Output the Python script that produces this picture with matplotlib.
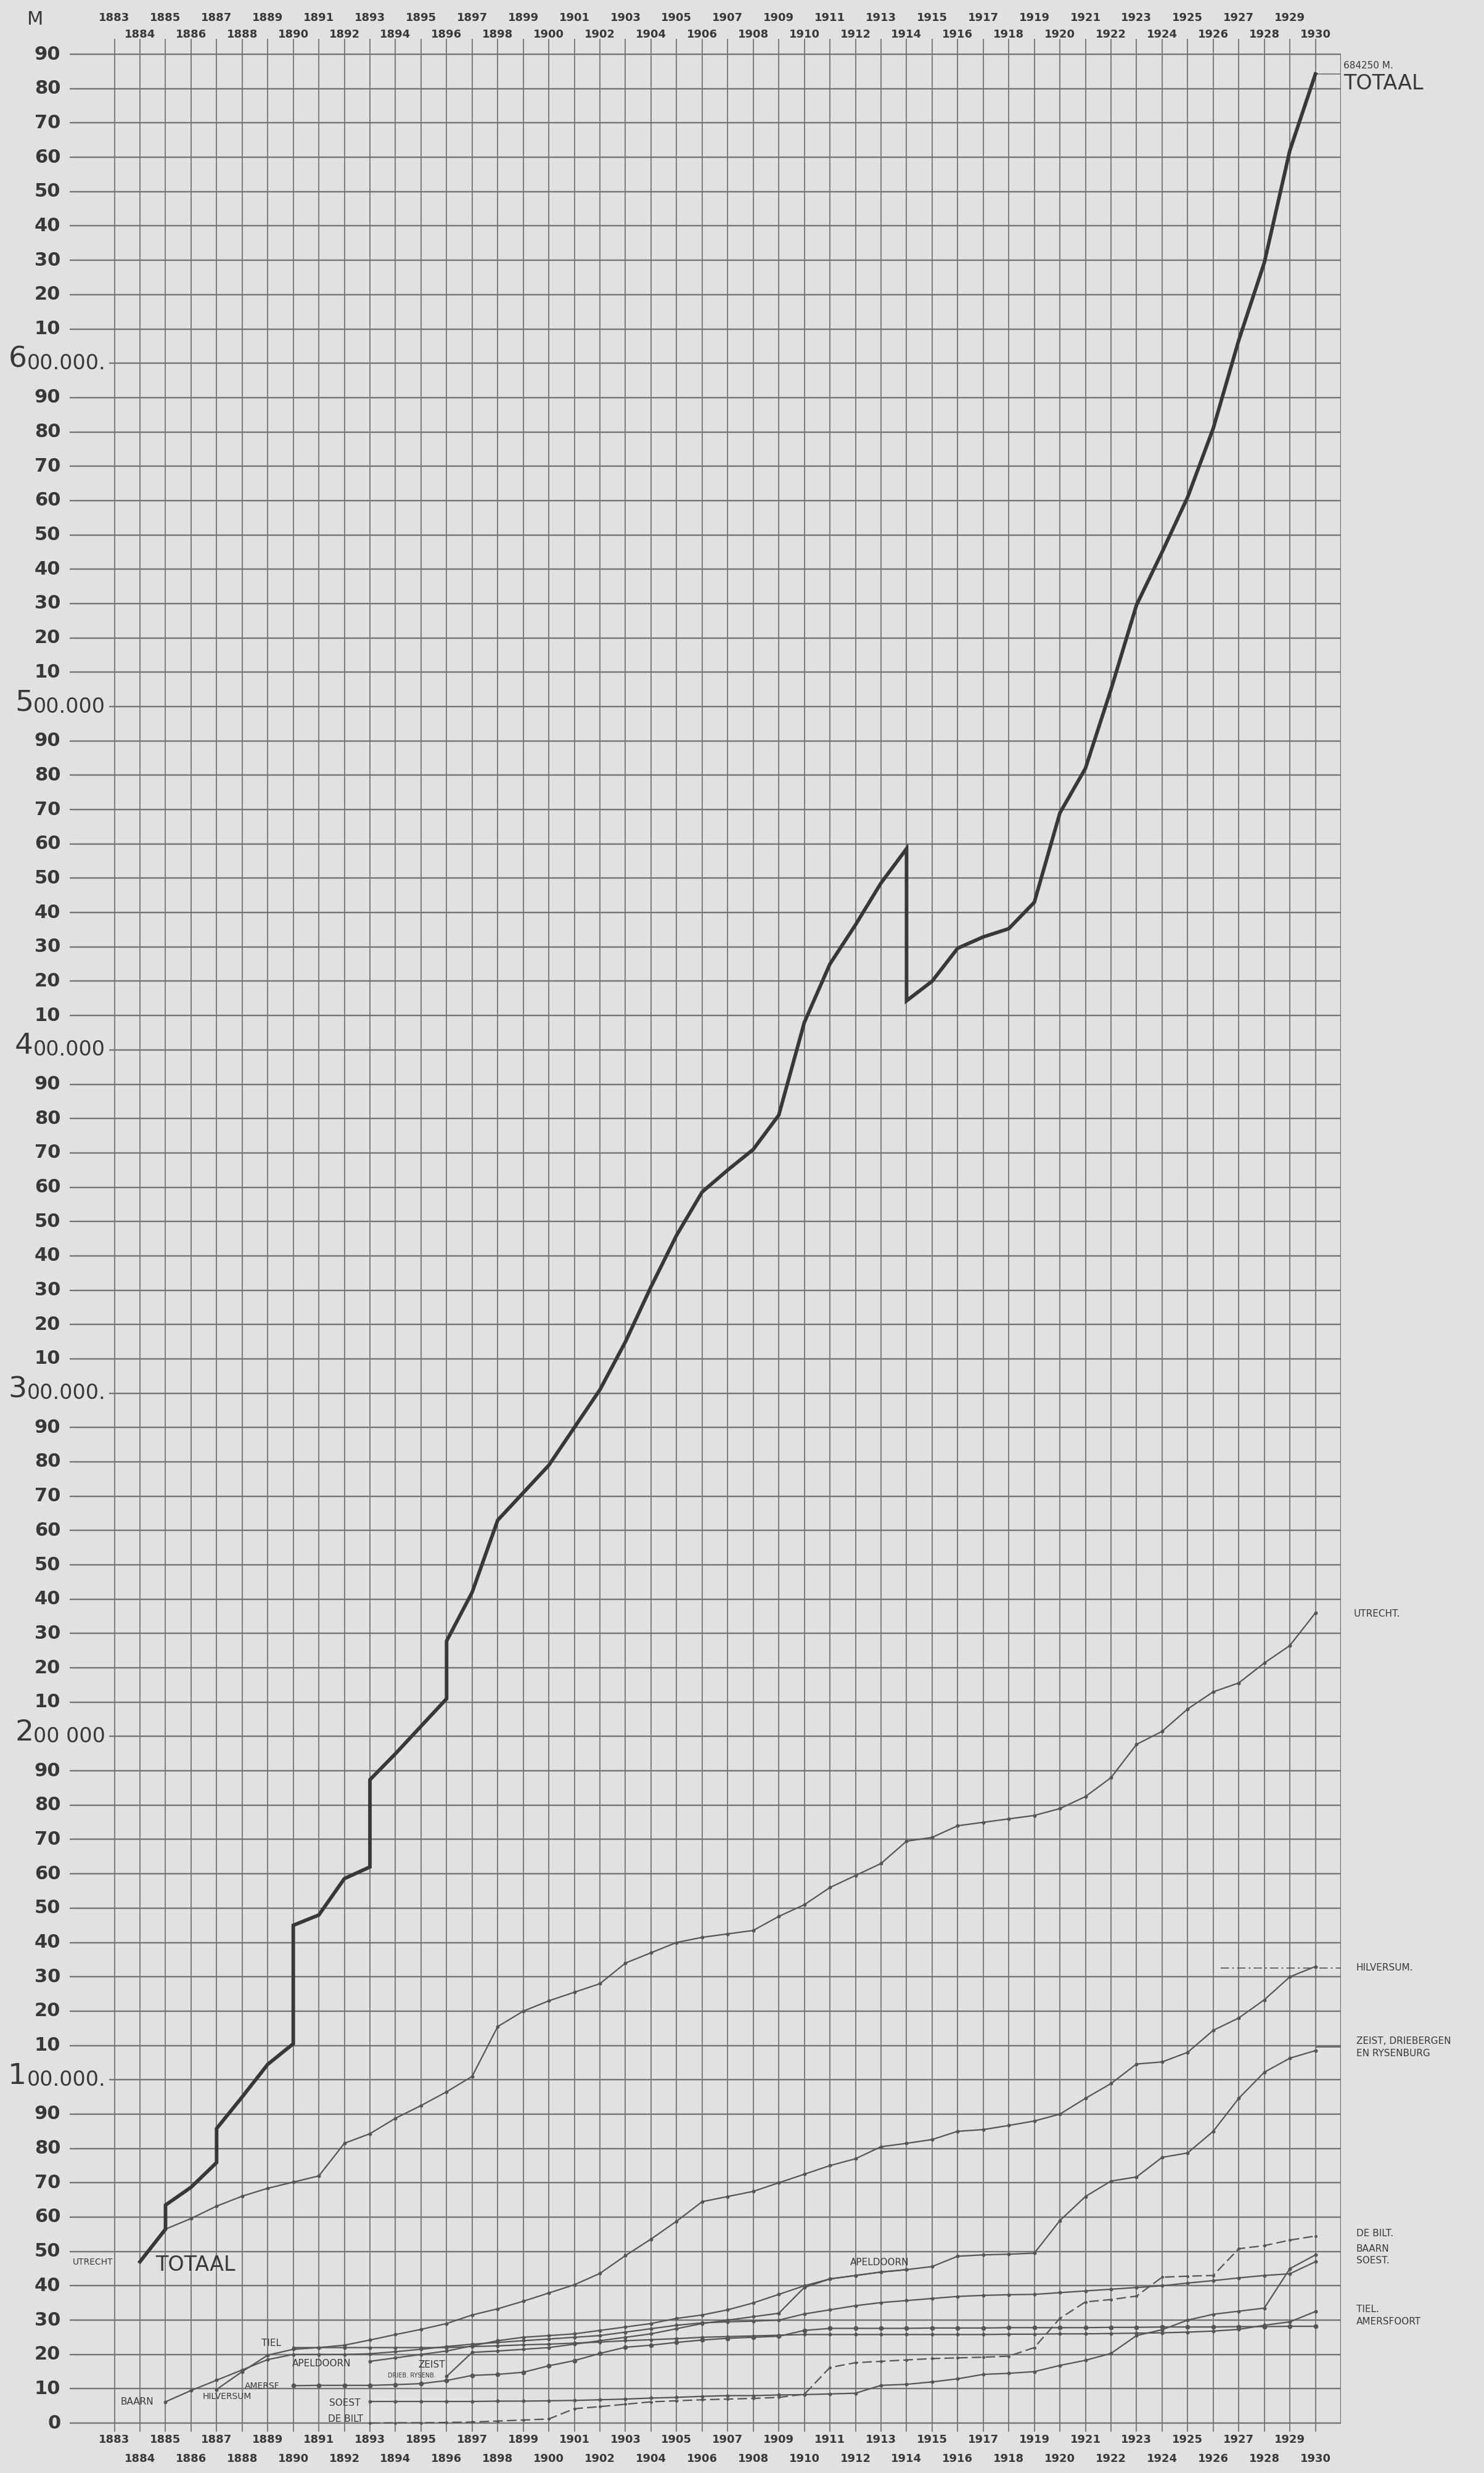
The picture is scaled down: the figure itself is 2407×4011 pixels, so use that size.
import numpy as np
import matplotlib
matplotlib.use("Agg")
import matplotlib.pyplot as plt

# all lengths in thousands of metres
years = list(range(1883, 1931))

# totaal: a year given twice marks a vertical jump (town added / dropped)
total_years = [1884, 1885, 1885, 1886, 1887, 1887, 1888, 1889, 1890, 1890,
               1891, 1892, 1893, 1893, 1894, 1895, 1896, 1896, 1897, 1898,
               1899, 1900, 1901, 1902, 1903, 1904, 1905, 1906, 1907, 1908,
               1909, 1910, 1911, 1912, 1913, 1914, 1914, 1915, 1916, 1917,
               1918, 1919, 1920, 1921, 1922, 1923, 1924, 1925, 1926, 1927,
               1928, 1929, 1930]
total_km = [47, 56.5, 63.5, 68.7, 75.9, 85.8, 95, 104.5, 110.5, 145,
            148, 158.6, 162, 187.4, 195, 203, 211, 227.8, 242, 263,
            271, 279, 290, 301, 315, 331, 346, 358.6, 365, 371,
            381, 408, 425, 436.4, 448.6, 458.6, 414.3, 420, 429.6, 432.9,
            435.3, 443, 469, 482, 505, 529.6, 545, 561, 581, 606.7,
            629.3, 662, 684.25]

utrecht_start = 1885
utrecht = [56.5, 59.6, 63.2, 66.1, 68.4, 70.2, 72, 81.5, 84.3, 88.8,
           92.5, 96.5, 101, 115.5, 120, 123, 125.5, 128, 134, 137,
           140, 141.5, 142.5, 143.5, 147.6, 151, 156, 159.5, 163, 169.5,
           170.6, 174, 175, 176, 177, 179, 182.5, 188, 197.7, 201.5,
           208, 213, 215.6, 221.4, 226.5, 236]

hilversum_start = 1887
hilversum = [9.8, 15, 19.8, 21.5, 22, 22.7, 24.2, 25.8, 27.3, 29,
             31.5, 33.3, 35.5, 37.9, 40.3, 43.6, 48.8, 53.6, 58.8, 64.5,
             66, 67.5, 70, 72.5, 75, 77, 80.5, 81.5, 82.6, 85,
             85.5, 86.7, 88, 90, 94.6, 98.9, 104.6, 105.2, 108, 114.4,
             118, 123.3, 130, 133]

zeist_start = 1896
zeist = [13.6, 20.6, 21, 21.5, 22, 23, 24, 25, 26, 27.5,
         29, 30, 31, 32, 39.5, 42, 43, 44, 44.7, 45.6,
         48.6, 49, 49.2, 49.5, 59, 66, 70.5, 71.7, 77.4, 78.7,
         85, 94.6, 102.2, 106.3, 108.5]

apeldoorn_start = 1893
apeldoorn = [18, 19, 20, 21, 22.5, 24, 25, 25.5, 26, 27,
             28, 29, 30.5, 31.5, 33, 35, 37.5, 40, 42, 43,
             44, 44.7]

debilt_start = 1893
debilt = [0.0, 0.1, 0.1, 0.2, 0.3, 0.6, 0.9, 1.2, 4.2, 4.8,
          5.5, 6.2, 6.5, 6.8, 7.0, 7.2, 7.5, 8.4, 16.2, 17.6,
          18.0, 18.4, 18.8, 19.0, 19.2, 19.5, 22.0, 30.5, 35.3, 36.0,
          37.0, 42.5, 42.8, 43.0, 50.8, 51.7, 53.3, 54.5]

soest_start = 1893
soest = [6.3, 6.3, 6.3, 6.3, 6.3, 6.4, 6.4, 6.5, 6.6, 6.8,
         7.0, 7.3, 7.5, 7.8, 8.0, 8.0, 8.2, 8.3, 8.5, 8.7,
         11.0, 11.3, 12.0, 12.9, 14.2, 14.5, 15.0, 16.8, 18.3, 20.3,
         25.5, 27.2, 30.0, 31.7, 32.6, 33.5, 45.0, 49.0]

baarn_start = 1885
baarn = [6.2, 9.5, 12.5, 15.5, 18.5, 20.0, 20.0, 20.0, 20.2, 20.8,
         21.5, 22.3, 23.0, 23.5, 24.0, 24.5, 25.0, 25.5, 26.5, 27.5,
         28.5, 29.2, 29.5, 29.7, 30.0, 31.8, 33.0, 34.2, 35.1, 35.7,
         36.3, 36.9, 37.2, 37.4, 37.5, 38.0, 38.5, 39.0, 39.5, 40.0,
         40.8, 41.5, 42.3, 43.0, 43.5, 47.0]

tiel_start = 1890
tiel = [22.0, 22.0, 22.0, 22.0, 22.0, 22.0, 22.0, 22.3, 22.5, 22.8,
        23.0, 23.3, 23.6, 24.0, 24.3, 24.6, 25.0, 25.2, 25.4, 25.6,
        25.8, 25.8, 25.8, 25.8, 25.8, 25.8, 25.8, 25.8, 25.9, 25.9,
        26.0, 26.0, 26.1, 26.2, 26.3, 26.5, 26.8, 27.3, 28.5, 29.5,
        32.5]

amersfoort_start = 1890
amersfoort = [10.9, 11.0, 11.0, 11.0, 11.2, 11.5, 12.4, 13.9, 14.2, 14.8,
              16.7, 18.2, 20.3, 22.1, 22.7, 23.5, 24.2, 24.7, 25.0, 25.3,
              27.0, 27.6, 27.6, 27.6, 27.6, 27.7, 27.7, 27.7, 27.8, 27.8,
              27.8, 27.8, 27.9, 27.9, 28.0, 28.0, 28.0, 28.1, 28.1, 28.2,
              28.2]

big_labels = {100: ("1", "00.000."), 200: ("2", "00 000"), 300: ("3", "00.000."),
              400: ("4", "00.000"), 500: ("5", "00.000"), 600: ("6", "00.000.")}

W, H, DPI = 2407, 4011, 100
PAPER = "#e1e1e1"
INK = "#383838"
LINE = "#555555"
GRID = "#747474"
FONT = "DejaVu Sans"

X0, X1 = 1881.25, 1931.0
Y0, Y1 = -2.5, 694.5

fig = plt.figure(figsize=(W / DPI, H / DPI), dpi=DPI, facecolor=PAPER)
ax = fig.add_axes([113 / W, 1 - 3944 / H, 2062 / W, (3944 - 63) / H])
ax.set_facecolor(PAPER)
ax.set_xlim(X0, X1)
ax.set_ylim(Y0, Y1)
ax.axis("off")

# squared paper
for v in range(0, 700, 10):
    start = 1882.8 if (v % 100 == 0 and v > 0) else X0
    ax.hlines(v, start, X1, color=GRID, lw=1.7, zorder=1)
ax.vlines(years, Y0, Y1, color=GRID, lw=1.3, zorder=1)
ax.vlines(X1, 0, 690, color=GRID, lw=1.7, zorder=1)

# y labels
for v in range(0, 700, 10):
    if v in big_labels:
        head, tail = big_labels[v]
        rest = ax.text(1882.65, v, tail, ha="right", va="center", fontsize=24,
                       color=INK, family=FONT)
        ax.annotate(head, xy=(0, 0), xycoords=rest, ha="right", va="bottom",
                    fontsize=34, color=INK, family=FONT)
    else:
        ax.text(1880.9, v, str(v % 100), ha="right", va="center", fontsize=22,
                fontweight="bold", color=INK, family=FONT)
fig.text(57 / W, 1 - 32 / H, "M", ha="center", va="center", fontsize=22,
         color=INK, family=FONT)

# year labels, two staggered rows top and bottom
for yr in years:
    odd = (yr - 1883) % 2 == 0
    ax.text(yr, 700.6 if odd else 695.8, str(yr), ha="center", va="center",
            fontsize=13, fontweight="bold", color=INK, family=FONT)
    ax.text(yr, -4.9 if odd else -10.4, str(yr), ha="center", va="center",
            fontsize=13, fontweight="bold", color=INK, family=FONT)


def town(start, vals, **kw):
    yrs = np.arange(start, start + len(vals))
    style = dict(color=LINE, lw=1.6, marker="o", ms=3.2, zorder=3)
    style.update(kw)
    ax.plot(yrs, vals, **style)


town(utrecht_start, utrecht)
town(hilversum_start, hilversum)
town(zeist_start, zeist)
town(apeldoorn_start, apeldoorn)
town(debilt_start, debilt, ls=(0, (7, 3)), ms=2.5)
town(soest_start, soest)
town(baarn_start, baarn)
town(tiel_start, tiel)
town(amersfoort_start, amersfoort, ms=4.5)

ax.plot(total_years, total_km, color=INK, lw=4.2, zorder=4,
        solid_joinstyle="miter")

# leader lines to the right-hand labels
ax.hlines(684.25, 1930, X1, color=GRID, lw=1.2, zorder=2)
ax.hlines(132.5, 1926.3, 1931.5, color=LINE, lw=1.2, ls=(0, (8, 3, 2, 3)), zorder=2)
ax.hlines(109.5, 1930, 1931.5, color=LINE, lw=1.2, zorder=2)

small = dict(color=INK, family=FONT, va="center")
ax.text(1931.1, 686.6, "684250 M.", fontsize=11, ha="left", **small)
ax.text(1931.1, 681.4, "TOTAAL", fontsize=24, ha="left", **small)
ax.text(1931.5, 235.8, "UTRECHT.", fontsize=11, ha="left", **small)
ax.text(1931.6, 132.7, "HILVERSUM.", fontsize=11, ha="left", **small)
ax.text(1931.6, 111.2, "ZEIST, DRIEBERGEN", fontsize=11, ha="left", **small)
ax.text(1931.6, 107.6, "EN RYSENBURG", fontsize=11, ha="left", **small)
ax.text(1931.6, 55.3, "DE BILT.", fontsize=11, ha="left", **small)
ax.text(1931.6, 50.8, "BAARN", fontsize=11, ha="left", **small)
ax.text(1931.6, 47.3, "SOEST.", fontsize=11, ha="left", **small)
ax.text(1931.6, 33.2, "TIEL.", fontsize=11, ha="left", **small)
ax.text(1931.6, 29.6, "AMERSFOORT", fontsize=11, ha="left", **small)

# labels at the start of each line
ax.text(1882.95, 46.8, "UTRECHT", fontsize=10, ha="right", **small)
ax.text(1884.6, 46.0, "TOTAAL", fontsize=24, ha="left", **small)
ax.text(1883.25, 6.2, "BAARN", fontsize=11, ha="left", **small)
ax.text(1886.45, 7.8, "HILVERSUM", fontsize=10, ha="left", **small)
ax.text(1888.1, 10.8, "AMERSF", fontsize=10, ha="left", **small)
ax.text(1888.75, 23.2, "TIEL", fontsize=11, ha="left", **small)
ax.text(1889.95, 17.3, "APELDOORN", fontsize=11, ha="left", **small)
ax.text(1894.9, 16.9, "ZEIST", fontsize=11, ha="left", **small)
ax.text(1893.7, 13.8, "DRIEB. RYSENB.", fontsize=7, ha="left", **small)
ax.text(1891.4, 5.8, "SOEST", fontsize=11, ha="left", **small)
ax.text(1891.35, 1.2, "DE BILT", fontsize=11, ha="left", **small)
ax.text(1911.8, 46.8, "APELDOORN", fontsize=11, ha="left", **small)

fig.savefig("out.png", dpi=DPI, facecolor=PAPER)
